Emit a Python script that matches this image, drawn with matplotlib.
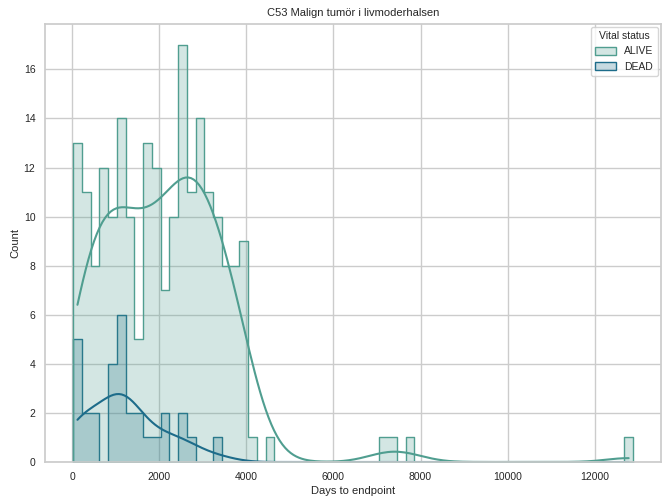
import numpy as np
import pandas as pd
import seaborn as sns
import matplotlib.pyplot as plt

# histogram counts per bin (64 equal bins between first and last edge, in days)
first_edge = 20
last_edge = 12880
alive_counts = [13, 11, 8, 12, 10, 14, 10, 5, 13, 12, 7, 10, 17, 11, 14, 11,
                10, 8, 8, 9, 1, 0, 1, 0, 0, 0, 0, 0, 0, 0, 0, 0,
                0, 0, 0, 1, 1, 0, 1, 0, 0, 0, 0, 0, 0, 0, 0, 0,
                0, 0, 0, 0, 0, 0, 0, 0, 0, 0, 0, 0, 0, 0, 0, 1]
dead_counts = [5, 2, 2, 0, 4, 6, 2, 2, 1, 1, 2, 0, 2, 1, 0, 0,
               1, 0, 0, 0, 0, 0, 0, 0, 0, 0, 0, 0, 0, 0, 0, 0,
               0, 0, 0, 0, 0, 0, 0, 0, 0, 0, 0, 0, 0, 0, 0, 0,
               0, 0, 0, 0, 0, 0, 0, 0, 0, 0, 0, 0, 0, 0, 0, 0]
status_levels = ["ALIVE", "DEAD"]

n_bins = len(alive_counts)
edges = np.linspace(first_edge, last_edge, n_bins + 1)
centers = (edges[:-1] + edges[1:]) / 2

# one row per case, placed at its bin centre
df = pd.concat([
    pd.DataFrame({"Days to endpoint": np.repeat(centers, alive_counts), "Vital status": "ALIVE"}),
    pd.DataFrame({"Days to endpoint": np.repeat(centers, dead_counts), "Vital status": "DEAD"}),
], ignore_index=True)

sns.set_theme(style="whitegrid")
plt.rcParams['font.family'] = ['Liberation Sans', 'DejaVu Sans']
plt.rcParams['legend.fontsize'] = 7.5
plt.rcParams['legend.title_fontsize'] = 7.5

fig = plt.figure(figsize=(6.63, 5), dpi=100)
ax = fig.add_axes([0.068, 0.076, 0.929, 0.876])

sns.histplot(data=df, x="Days to endpoint", hue="Vital status",
             hue_order=status_levels, bins=n_bins, binrange=(first_edge, last_edge),
             element="step", kde=True, palette="crest", ax=ax)

ax.set_title("C53 Malign tumör i livmoderhalsen", fontsize=8)
ax.set_xlabel("Days to endpoint", fontsize=8, labelpad=3)
ax.set_ylabel("Count", fontsize=8, labelpad=2)
ax.tick_params(axis="x", labelsize=7.5, length=0, pad=7)
ax.tick_params(axis="y", labelsize=7.5, length=0, pad=7)
sns.move_legend(ax, "upper right", borderaxespad=0.3)

fig.savefig("out.png", dpi=100)
